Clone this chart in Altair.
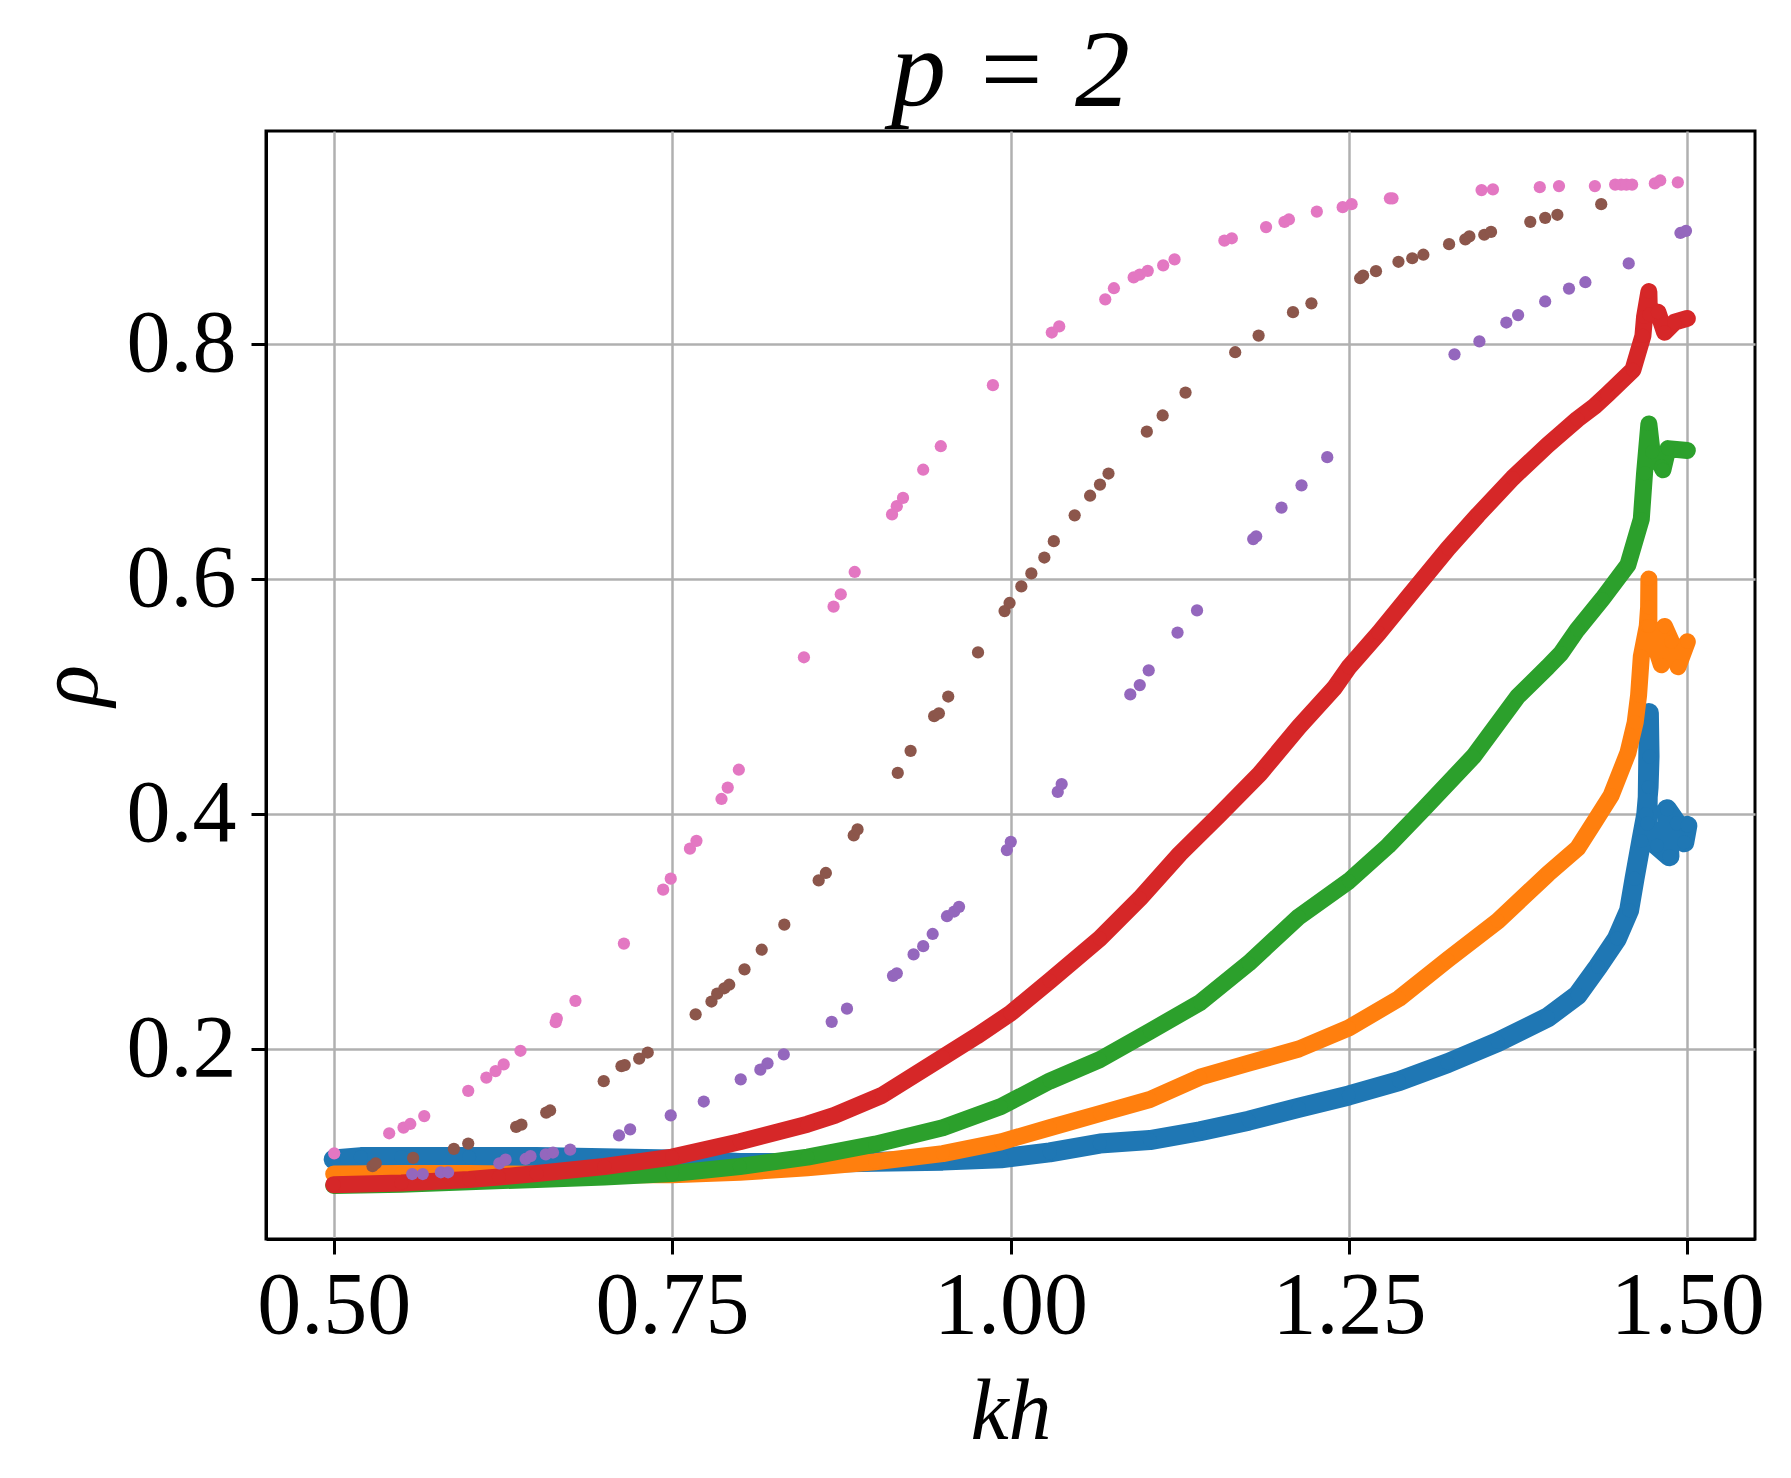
import altair as alt
import pandas as pd

# ---- dense series (read along the centre of each band) ----
blue_kh = [0.500, 0.520, 0.550, 0.600, 0.650, 0.700, 0.750, 0.800, 0.850, 0.900, 0.950, 0.993,
           1.029, 1.066, 1.103, 1.140, 1.176, 1.213, 1.250, 1.287, 1.323, 1.360, 1.397, 1.419,
           1.434, 1.448, 1.457, 1.461, 1.466, 1.4697, 1.4714, 1.4721, 1.4716, 1.4705, 1.4776,
           1.4868, 1.4850, 1.4923, 1.4978, 1.5000]
blue_rho = [0.106, 0.108, 0.108, 0.108, 0.108, 0.107, 0.106, 0.103, 0.103, 0.104, 0.105, 0.107,
            0.112, 0.1195, 0.1225, 0.130, 0.139, 0.150, 0.1605, 0.1727, 0.188, 0.206, 0.227, 0.246,
            0.270, 0.294, 0.318, 0.345, 0.377, 0.400, 0.423, 0.449, 0.486, 0.392, 0.373,
            0.364, 0.404, 0.392, 0.376, 0.390]

orange_kh = [0.500, 0.550, 0.600, 0.650, 0.700, 0.750, 0.800, 0.850, 0.900, 0.950, 0.993, 1.029,
             1.066, 1.103, 1.140, 1.176, 1.213, 1.250, 1.287, 1.323, 1.360, 1.397, 1.419, 1.4315,
             1.4438, 1.4561, 1.4615, 1.464, 1.466, 1.4704, 1.4714, 1.4716, 1.4716, 1.4808, 1.4832,
             1.4882, 1.4931, 1.5000]
orange_rho = [0.0936, 0.094, 0.094, 0.0935, 0.093, 0.093, 0.095, 0.099, 0.104, 0.111, 0.121, 0.133,
              0.145, 0.157, 0.176, 0.188, 0.200, 0.218, 0.243, 0.276, 0.309, 0.349, 0.371, 0.3935,
              0.416, 0.452, 0.478, 0.501, 0.534, 0.560, 0.576, 0.600, 0.560, 0.527, 0.5596,
              0.5466, 0.5254, 0.5466]

green_kh = [0.500, 0.550, 0.600, 0.650, 0.700, 0.750, 0.800, 0.850, 0.900, 0.950, 0.993, 1.029,
            1.066, 1.103, 1.140, 1.176, 1.213, 1.250, 1.279, 1.305, 1.342, 1.3747, 1.3968, 1.4068,
            1.4188, 1.4372, 1.4561, 1.466, 1.4684, 1.4716, 1.474, 1.4808, 1.482, 1.4857,
            1.5000]
green_rho = [0.0839, 0.085, 0.087, 0.089, 0.091, 0.094, 0.100, 0.108, 0.119, 0.133, 0.151, 0.1727,
             0.191, 0.215, 0.2395, 0.273, 0.3125, 0.343, 0.373, 0.404, 0.449, 0.500, 0.525, 0.537,
             0.557, 0.583, 0.612, 0.651, 0.690, 0.732, 0.708, 0.696, 0.693, 0.711,
             0.7094]

red_kh = [0.500, 0.550, 0.600, 0.622, 0.650, 0.700, 0.750, 0.800, 0.850, 0.870, 0.905, 0.950,
          0.975, 1.000, 1.029, 1.066, 1.0955, 1.125, 1.154, 1.184, 1.213, 1.239, 1.250, 1.272,
          1.294, 1.3233, 1.3453, 1.371, 1.3968, 1.4068, 1.4188, 1.4315, 1.4409, 1.4598, 1.4672,
          1.4684, 1.4716, 1.4720, 1.4783, 1.4832, 1.4906, 1.5000]
red_rho = [0.0845, 0.086, 0.089, 0.091, 0.094, 0.100, 0.108, 0.121, 0.136, 0.1435, 0.1605, 0.193,
           0.211, 0.2304, 0.258, 0.294, 0.328, 0.366, 0.399, 0.434, 0.474, 0.507, 0.525, 0.554,
           0.585, 0.626, 0.6545, 0.686, 0.714, 0.724, 0.736, 0.747, 0.757, 0.778, 0.807,
           0.823, 0.8446, 0.825, 0.827, 0.810, 0.8186, 0.8218]

# ---- sparse series (individual points) ----
purple_kh = [0.558, 0.5658, 0.5792, 0.5845, 0.6224, 0.627, 0.6418, 0.6454, 0.6567, 0.662, 0.6747,
             0.7108, 0.719, 0.749, 0.7734, 0.8007, 0.8152, 0.8205, 0.8325, 0.8679, 0.8792, 0.9132,
             0.916, 0.9284, 0.9355, 0.9425, 0.9531, 0.9584, 0.962, 0.9973, 1.0002, 1.0349, 1.0378,
             1.0885, 1.0955, 1.1021, 1.1234, 1.1378, 1.1793, 1.1815, 1.2002, 1.215, 1.234, 1.328,
             1.3464, 1.3663, 1.375, 1.395, 1.4126, 1.4247, 1.4567, 1.4949, 1.499]
purple_rho = [0.0936, 0.0936, 0.0951, 0.0951, 0.1027, 0.1058, 0.1064, 0.1088, 0.1103, 0.1119, 0.1143,
              0.1264, 0.1316, 0.1435, 0.1553, 0.1742, 0.1824, 0.1878, 0.1954, 0.2231, 0.2343, 0.2623,
              0.2644, 0.2805, 0.2875, 0.2979, 0.313, 0.317, 0.321, 0.3693, 0.3763, 0.4188, 0.4255,
              0.5018, 0.5097, 0.5223, 0.5544, 0.5733, 0.634, 0.6363, 0.6608, 0.6797, 0.7037, 0.7912,
              0.8022, 0.8183, 0.8246, 0.8362, 0.8472, 0.8526, 0.8686, 0.8945, 0.8963]

brown_kh = [0.5287, 0.5311, 0.5587, 0.5888, 0.5994, 0.6348, 0.6387, 0.657, 0.6599, 0.6995, 0.7126,
            0.715, 0.7257, 0.732, 0.7674, 0.7791, 0.7833, 0.7886, 0.7922, 0.8035, 0.8162, 0.8329,
            0.8583, 0.8636, 0.8842, 0.887, 0.9167, 0.9262, 0.9436, 0.9471, 0.954, 0.976, 0.9956,
            0.9993, 1.008, 1.0154, 1.025, 1.032, 1.0474, 1.0588, 1.0661, 1.0724, 1.1007, 1.1124,
            1.1293, 1.166, 1.1833, 1.2087, 1.2223, 1.2583, 1.2605, 1.27, 1.2866, 1.2968, 1.305,
            1.324, 1.336, 1.339, 1.35, 1.355, 1.384, 1.395, 1.404, 1.4364]
brown_rho = [0.1003, 0.1027, 0.1073, 0.115, 0.1195, 0.1337, 0.1356, 0.1459, 0.1477, 0.1726, 0.1854,
             0.1863, 0.1918, 0.197, 0.2295, 0.2404, 0.2471, 0.2517, 0.2547, 0.2678, 0.2845, 0.3058,
             0.3435, 0.3498, 0.3818, 0.3869, 0.435, 0.4538, 0.4833, 0.4857, 0.500, 0.5375, 0.5727,
             0.5796, 0.5937, 0.6048, 0.6183, 0.6322, 0.6542, 0.6709, 0.6804, 0.6898, 0.7254, 0.7392,
             0.7587, 0.793, 0.8072, 0.8271, 0.8346, 0.856, 0.8583, 0.862, 0.870, 0.873, 0.876,
             0.885, 0.889, 0.8916, 0.893, 0.8954, 0.904, 0.9074, 0.910, 0.919]

pink_kh = [0.5004, 0.541, 0.5516, 0.5566, 0.5669, 0.5994, 0.6128, 0.6196, 0.6256, 0.638, 0.664,
           0.6648, 0.6786, 0.7144, 0.7434, 0.749, 0.7632, 0.768, 0.7865, 0.7911, 0.7993, 0.8474,
           0.8693, 0.8746, 0.8849, 0.9125, 0.916, 0.9206, 0.9355, 0.9485, 0.987, 1.0305, 1.036,
           1.070, 1.0764, 1.091, 1.0955, 1.1014, 1.1128, 1.1212, 1.158, 1.1635, 1.1888, 1.2024,
           1.2057, 1.2263, 1.2454, 1.252, 1.2803, 1.2822, 1.348, 1.3564, 1.391, 1.4052, 1.4317,
           1.4467, 1.4512, 1.455, 1.4592, 1.476, 1.480, 1.493]
pink_rho = [0.1112, 0.1283, 0.1331, 0.1362, 0.1429, 0.1644, 0.1757, 0.1812, 0.1869, 0.1985, 0.2228,
            0.2258, 0.241, 0.2897, 0.3356, 0.345, 0.3705, 0.3772, 0.4128, 0.4225, 0.4377, 0.5334,
            0.5765, 0.587, 0.606, 0.655, 0.662, 0.669, 0.693, 0.713, 0.765, 0.8098, 0.815,
            0.838, 0.8475, 0.8567, 0.859, 0.8623, 0.867, 0.872, 0.888, 0.890, 0.8995, 0.904,
            0.906, 0.9127, 0.9165, 0.919, 0.924, 0.924, 0.931, 0.9316, 0.9335, 0.9344, 0.9344,
            0.9357, 0.9357, 0.9357, 0.9357, 0.9367, 0.9392, 0.9376]

x_ticks = [0.5, 0.75, 1.0, 1.25, 1.5]
y_ticks = [0.2, 0.4, 0.6, 0.8]

dense = [("blue", "#1f77b4", blue_kh, blue_rho, 20),
         ("orange", "#ff7f0e", orange_kh, orange_rho, 17),
         ("green", "#2ca02c", green_kh, green_rho, 17),
         ("red", "#d62728", red_kh, red_rho, 17)]
sparse = [("purple", "#9467bd", purple_kh, purple_rho),
          ("brown", "#8c564b", brown_kh, brown_rho),
          ("pink", "#e377c2", pink_kh, pink_rho)]

FONT = "Liberation Serif"

xs = alt.Scale(domain=[0.45, 1.55], nice=False, zero=False)
ys = alt.Scale(domain=[0.0383, 0.9813], nice=False, zero=False)

xax = alt.Axis(values=x_ticks, format=".2f", title="kh", grid=True)
yax = alt.Axis(values=y_ticks, format=".1f", title="ρ", grid=True)


def enc():
    return dict(x=alt.X("kh:Q", scale=xs, axis=xax), y=alt.Y("rho:Q", scale=ys, axis=yax))


layers = []
for name, col, kh, rho, sw in dense:
    df = pd.DataFrame({"kh": kh, "rho": rho, "i": list(range(len(kh)))})
    base = alt.Chart(df)
    line = base.mark_line(color=col, strokeWidth=sw, strokeCap="round", strokeJoin="round").encode(
        order="i:Q", **enc())
    pts = base.mark_circle(color=col, size=200, opacity=1).encode(**enc())
    layers += [line, pts]

for name, col, kh, rho in sparse:
    df = pd.DataFrame({"kh": kh, "rho": rho})
    pts = alt.Chart(df).mark_circle(color=col, size=150, opacity=1).encode(**enc())
    layers.append(pts)

chart = alt.layer(*layers).properties(
    width=1489, height=1108,
    title=alt.TitleParams("p = 2", font=FONT, fontSize=110, fontStyle="italic",
                          fontWeight="normal", color="black", anchor="middle", offset=2),
    padding={"left": 19, "top": 10, "right": 5, "bottom": 5},
).configure_view(stroke="black", strokeWidth=3).configure_axis(
    labelFont=FONT, labelFontSize=88, labelColor="black",
    titleFont=FONT, titleFontSize=86, titleFontStyle="italic", titleFontWeight="normal",
    titleColor="black",
    domainColor="black", domainWidth=3, tickColor="black", tickWidth=3, tickSize=15,
    gridColor="#b0b0b0", gridWidth=2.5,
).configure_axisY(titlePadding=12, labelPadding=15).configure_axisX(titlePadding=20, labelPadding=8)

chart.save("out.html", embed_options={"renderer": "svg", "actions": False})
